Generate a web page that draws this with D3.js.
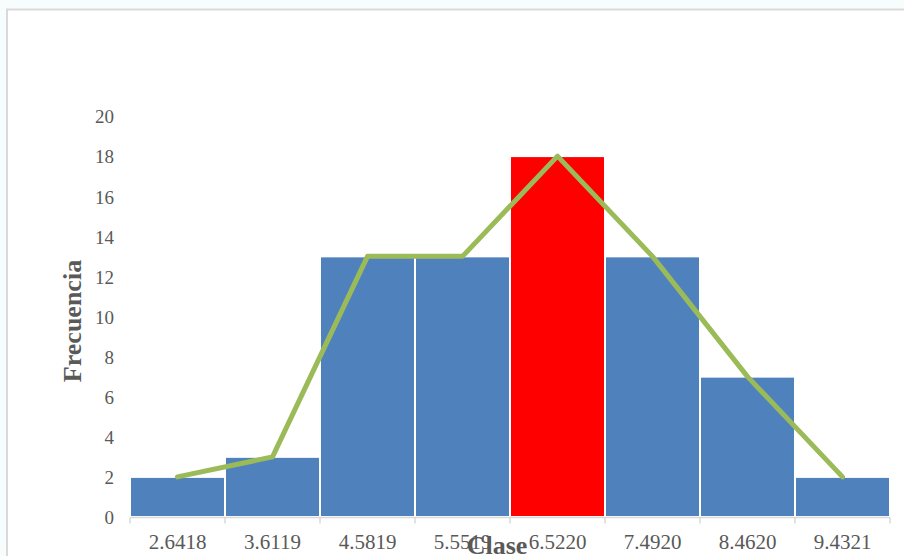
<!DOCTYPE html>
<html>
<head>
<meta charset="utf-8">
<script src="https://cdn.jsdelivr.net/npm/d3@7/dist/d3.min.js"></script>
<style>
  html, body { margin: 0; padding: 0; background: #f7fdfd; }
  svg { display: block; }
</style>
</head>
<body>
<svg id="chart" width="904" height="556"></svg>
<script>
// Histogram of class marks with frequency polygon
const classes = ["2.6418", "3.6119", "4.5819", "5.5519", "6.5220", "7.4920", "8.4620", "9.4321"];
const frequencies = [2, 3, 13, 13, 18, 13, 7, 2];
const highlighted = ["6.5220"];
const yTicks = [0, 2, 4, 6, 8, 10, 12, 14, 16, 18, 20];

const svg = d3.select("#chart");
const W = 904, H = 556;

// chart frame
svg.append("rect")
  .attr("x", 7).attr("y", 9.5)
  .attr("width", W + 20).attr("height", H + 20)
  .attr("fill", "#ffffff")
  .attr("stroke", "#d9d9d9").attr("stroke-width", 2);

const plot = { left: 130, right: 890, top: 116, bottom: 517 };

const x = d3.scaleBand().domain(classes).range([plot.left, plot.right]).padding(0);
const y = d3.scaleLinear().domain([0, 20]).range([plot.bottom, plot.top]);

const font = "'Liberation Serif', 'Times New Roman', serif";

// bars
svg.append("g").selectAll("rect")
  .data(classes)
  .join("rect")
  .attr("x", d => x(d))
  .attr("y", (d, i) => y(frequencies[i]))
  .attr("width", x.bandwidth())
  .attr("height", (d, i) => y(0) - y(frequencies[i]))
  .attr("fill", d => highlighted.includes(d) ? "#ff0000" : "#4f81bd")
  .attr("stroke", "#ffffff")
  .attr("stroke-width", 2);

// y axis labels (no line)
const yAxis = svg.append("g")
  .attr("transform", `translate(${plot.left - 16},0)`)
  .call(d3.axisLeft(y).tickValues(yTicks).tickSize(0).tickPadding(0).tickFormat(d3.format("d")));
yAxis.select(".domain").remove();
yAxis.selectAll("text")
  .attr("dy", "0.36em")
  .attr("font-family", font).attr("font-size", 19).attr("fill", "#595959");

// x axis with boundary ticks
const xAxisG = svg.append("g").attr("transform", `translate(0,${plot.bottom + 0.5})`);
xAxisG.append("line")
  .attr("x1", plot.left).attr("x2", plot.right)
  .attr("stroke", "#d9d9d9").attr("stroke-width", 1.5);
const edges = classes.map(d => x(d)).concat([x(classes[classes.length - 1]) + x.bandwidth()]);
xAxisG.selectAll("line.edge")
  .data(edges)
  .join("line")
  .attr("class", "edge")
  .attr("x1", d => d).attr("x2", d => d)
  .attr("y1", 0).attr("y2", 6)
  .attr("stroke", "#d9d9d9").attr("stroke-width", 1.5);
xAxisG.selectAll("text")
  .data(classes)
  .join("text")
  .attr("x", d => x(d) + x.bandwidth() / 2)
  .attr("y", 31)
  .attr("text-anchor", "middle")
  .attr("font-family", font).attr("font-size", 21).attr("fill", "#595959")
  .text(d => d);

// frequency polygon
const line = d3.line()
  .x((d, i) => x(classes[i]) + x.bandwidth() / 2)
  .y(d => y(d));
svg.append("path")
  .datum(frequencies)
  .attr("d", line)
  .attr("fill", "none")
  .attr("stroke", "#9bbb59")
  .attr("stroke-width", 5)
  .attr("stroke-linejoin", "round")
  .attr("stroke-linecap", "round");

// axis titles
svg.append("text")
  .attr("transform", `translate(81,${321}) rotate(-90)`)
  .attr("text-anchor", "middle")
  .attr("font-family", font).attr("font-weight", "bold").attr("font-size", 26)
  .attr("fill", "#595959")
  .text("Frecuencia");

svg.append("text")
  .attr("x", 497).attr("y", 554)
  .attr("text-anchor", "middle")
  .attr("font-family", font).attr("font-weight", "bold").attr("font-size", 26)
  .attr("fill", "#595959")
  .text("Clase");
</script>
</body>
</html>
